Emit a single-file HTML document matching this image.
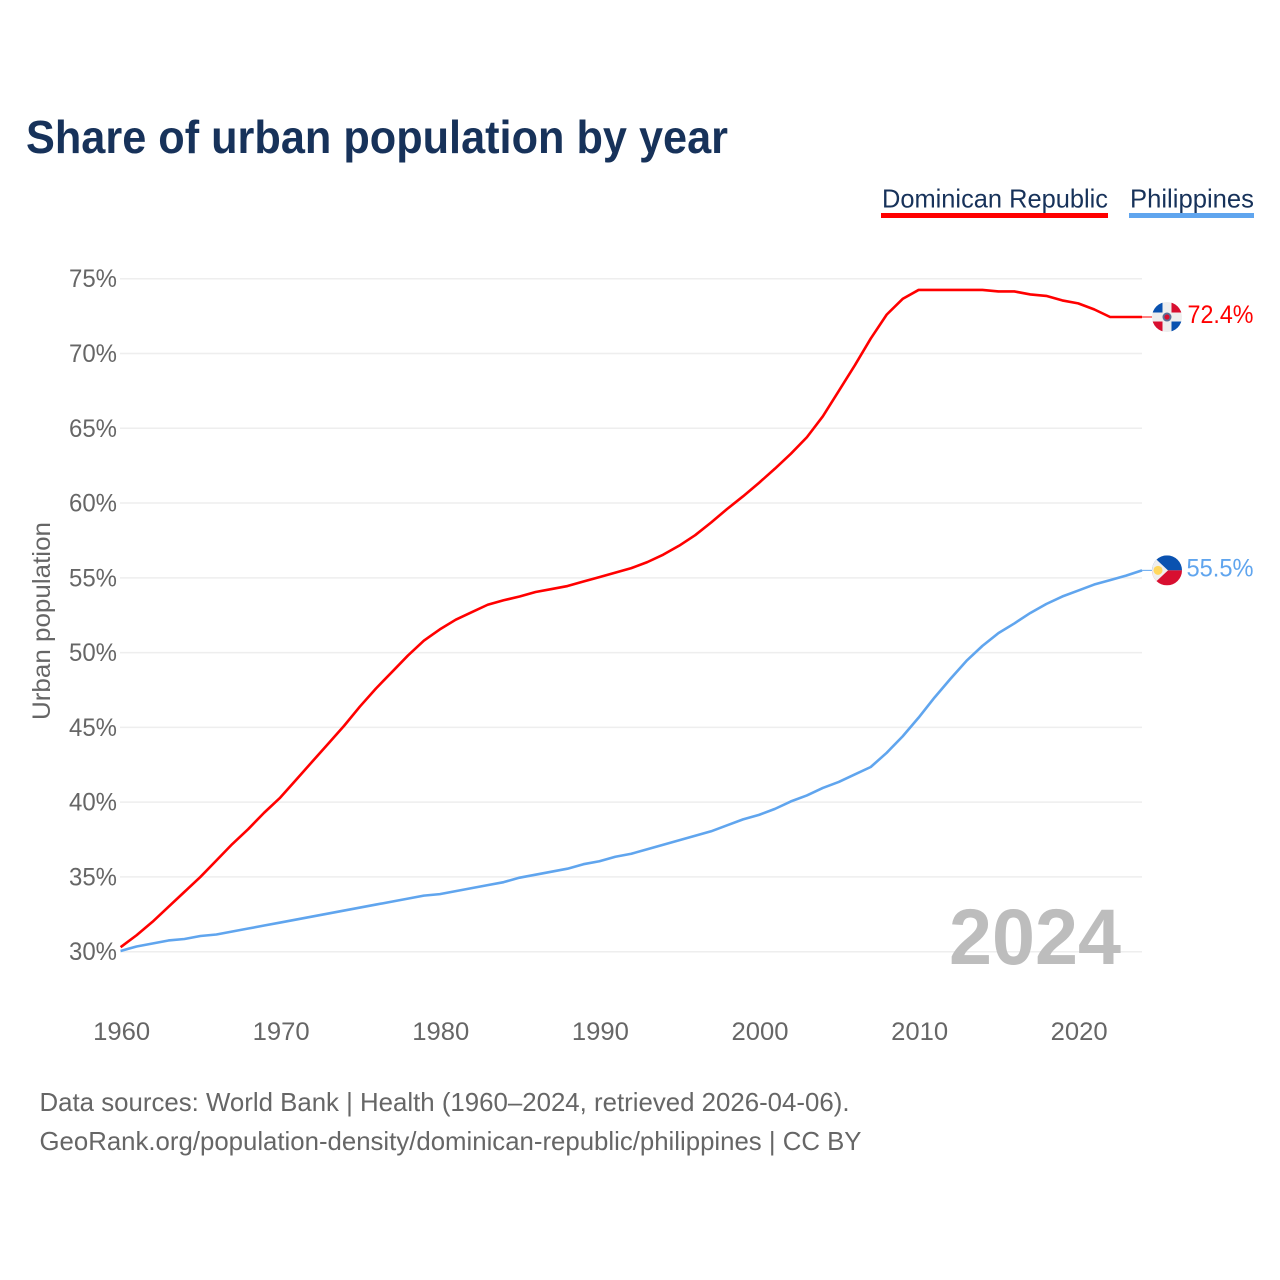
<!DOCTYPE html>
<html lang="en">
<head>
<meta charset="utf-8">
<title>Share of urban population by year</title>
<style>
html,body{margin:0;padding:0;background:#fff}
svg{display:block;font-family:"Liberation Sans",sans-serif}
</style>
</head>
<body>
<svg id="chart" xmlns="http://www.w3.org/2000/svg" width="1280" height="1280" viewBox="0 0 1280 1280">
  <defs>
    <clipPath id="flag-clip-do"><circle id="clip-do" cx="0" cy="0" r="15"/></clipPath>
    <clipPath id="flag-clip-ph"><circle id="clip-ph" cx="0" cy="0" r="15"/></clipPath>
  </defs>
  <rect width="1280" height="1280" fill="#fff"/>
  <text x="26" y="153" font-size="46" font-weight="700" fill="#17325a" textLength="702" lengthAdjust="spacingAndGlyphs">Share of urban population by year</text>

  <text x="882" y="207.5" font-size="26" fill="#17325a" textLength="226" lengthAdjust="spacingAndGlyphs">Dominican Republic</text>
  <rect x="881" y="213" width="227" height="5" fill="#ff0000"/>
  <text x="1130" y="207.5" font-size="26" fill="#17325a" textLength="124" lengthAdjust="spacingAndGlyphs">Philippines</text>
  <rect x="1129" y="213" width="125" height="5" fill="#60a5ee"/>

  <g id="grid"></g>
  <g id="y-ticks"></g>
  <g id="x-ticks"></g>

  <text transform="translate(50 621) rotate(-90)" text-anchor="middle" font-size="25" fill="#666" textLength="198" lengthAdjust="spacingAndGlyphs">Urban population</text>
  <text x="949" y="964" font-size="79" font-weight="700" fill="#bdbdbd" textLength="172" lengthAdjust="spacingAndGlyphs">2024</text>

  <g id="series"></g>

  <g id="flag-do">
    <g clip-path="url(#flag-clip-do)">
      <rect x="-15" y="-15" width="30" height="30" fill="#eeeeee"/>
      <rect x="-15" y="-15" width="10.5" height="10.5" fill="#0a52b0"/>
      <rect x="4.5" y="-15" width="10.5" height="10.5" fill="#d80f30"/>
      <rect x="-15" y="4.5" width="10.5" height="10.5" fill="#d80f30"/>
      <rect x="4.5" y="4.5" width="10.5" height="10.5" fill="#0a52b0"/>
      <circle r="4.5" fill="#5a6f96"/>
      <circle r="2.6" fill="#d80f30"/>
    </g>
  </g>
  <g id="flag-ph">
    <g clip-path="url(#flag-clip-ph)">
      <rect x="-15" y="-15" width="30" height="15" fill="#0a52b0"/>
      <rect x="-15" y="0" width="30" height="15" fill="#d80f30"/>
      <polygon points="-15,-15 -15,15 1,0" fill="#efefef"/>
      <circle cx="-9" cy="0" r="4.5" fill="#ffd75e"/>
    </g>
  </g>
  <text id="end-label-do" text-anchor="end" x="1253.5" font-size="25" fill="#ff0000" textLength="66" lengthAdjust="spacingAndGlyphs"></text>
  <text id="end-label-ph" text-anchor="end" x="1253.5" font-size="25" fill="#60a5ee" textLength="67" lengthAdjust="spacingAndGlyphs"></text>

  <text x="39.5" y="1111" font-size="26" fill="#666" textLength="810" lengthAdjust="spacingAndGlyphs">Data sources: World Bank | Health (1960–2024, retrieved 2026-04-06).</text>
  <text x="39.5" y="1150" font-size="26" fill="#666" textLength="822" lengthAdjust="spacingAndGlyphs">GeoRank.org/population-density/dominican-republic/philippines | CC BY</text>
</svg>
<script>
const startYear = 1960;
const xTickYears = [1960, 1970, 1980, 1990, 2000, 2010, 2020];
const yTickValues = [30, 35, 40, 45, 50, 55, 60, 65, 70, 75];
const dominicanRepublic = [
  30.3, 31.1, 32.0, 33.0, 34.0, 35.0, 36.1, 37.2, 38.2, 39.3,
  40.3, 41.5, 42.7, 43.9, 45.1, 46.4, 47.6, 48.7, 49.8, 50.8,
  51.55, 52.2, 52.7, 53.2, 53.5, 53.75, 54.05, 54.25, 54.45, 54.75,
  55.05, 55.35, 55.65, 56.05, 56.55, 57.15, 57.85, 58.7, 59.6, 60.45,
  61.35, 62.3, 63.3, 64.4, 65.8, 67.5, 69.2, 71.0, 72.6, 73.65,
  74.25, 74.25, 74.25, 74.25, 74.25, 74.15, 74.15, 73.95, 73.85, 73.55,
  73.35, 72.95, 72.44, 72.44, 72.44
];
const philippines = [
  30.05, 30.35, 30.55, 30.75, 30.85, 31.05, 31.15, 31.35, 31.55, 31.75,
  31.95, 32.15, 32.35, 32.55, 32.75, 32.95, 33.15, 33.35, 33.55, 33.75,
  33.85, 34.05, 34.25, 34.45, 34.65, 34.95, 35.15, 35.35, 35.55, 35.85,
  36.05, 36.35, 36.55, 36.85, 37.15, 37.45, 37.75, 38.05, 38.45, 38.85,
  39.15, 39.55, 40.05, 40.45, 40.95, 41.35, 41.85, 42.35, 43.3, 44.4,
  45.65, 47.0, 48.25, 49.45, 50.45, 51.3, 51.95, 52.65, 53.25, 53.75,
  54.15, 54.55, 54.85, 55.15, 55.5
];

const svgNS = 'http://www.w3.org/2000/svg';
const xScale = function (year) { return 120.6 + (year - startYear) * 15.96; };
const yScale = function (value) { return 951.7 - (value - 30) * 14.955; };
const gridLayer = document.getElementById('grid');
const yTickLayer = document.getElementById('y-ticks');
const xTickLayer = document.getElementById('x-ticks');
const seriesLayer = document.getElementById('series');

yTickValues.forEach(function (value) {
  const line = document.createElementNS(svgNS, 'line');
  
  
  line.setAttribute('x1', 120);
  line.setAttribute('x2', 1142);
  line.setAttribute('y1', yScale(value));
  line.setAttribute('y2', yScale(value));
  line.setAttribute('stroke', '#eeeeee');
  line.setAttribute('stroke-width', 1.5);
  gridLayer.appendChild(line);

  const label = document.createElementNS(svgNS, 'text');
  
  
  label.setAttribute('x', 117);
  label.setAttribute('y', yScale(value) + 8.5);
  label.setAttribute('text-anchor', 'end');
  label.setAttribute('font-size', 25);
  label.setAttribute('fill', '#666');
  label.setAttribute('textLength', 48);
  label.setAttribute('lengthAdjust', 'spacingAndGlyphs');
  label.textContent = value + '%';
  yTickLayer.appendChild(label);
});

xTickYears.forEach(function (year) {
  const label = document.createElementNS(svgNS, 'text');
  
  
  label.setAttribute('x', xScale(year) - 27.5);
  label.setAttribute('y', 1040);
  label.setAttribute('font-size', 25);
  label.setAttribute('fill', '#666');
  label.setAttribute('textLength', 57);
  label.setAttribute('lengthAdjust', 'spacingAndGlyphs');
  label.textContent = year;
  xTickLayer.appendChild(label);
});

function drawSeries(values, color, name, flagId, labelId, labelOffset) {
  const points = values.map(function (value, index) {
    return xScale(startYear + index).toFixed(2) + ',' + yScale(value).toFixed(2);
  });
  const line = document.createElementNS(svgNS, 'polyline');
  
  
  line.setAttribute('points', points.join(' '));
  line.setAttribute('fill', 'none');
  line.setAttribute('stroke', color);
  line.setAttribute('stroke-width', 2.6);
  line.setAttribute('stroke-linejoin', 'round');
  seriesLayer.appendChild(line);

  const lastValue = values[values.length - 1];
  const endX = xScale(startYear + values.length - 1);
  const endY = yScale(lastValue);
  const leader = document.createElementNS(svgNS, 'line');
  
  
  leader.setAttribute('x1', endX);
  leader.setAttribute('x2', endX + 10);
  leader.setAttribute('y1', endY);
  leader.setAttribute('y2', endY);
  leader.setAttribute('stroke', color);
  leader.setAttribute('stroke-width', 1);
  seriesLayer.appendChild(leader);

  document.getElementById(flagId).setAttribute('transform', 'translate(1167 ' + endY.toFixed(2) + ')');
  const endLabel = document.getElementById(labelId);
  endLabel.setAttribute('y', (endY + labelOffset).toFixed(2));
  endLabel.textContent = lastValue.toFixed(1) + '%';
}

drawSeries(dominicanRepublic, '#ff0000', 'line-dominican-republic', 'flag-do', 'end-label-do', 6);
drawSeries(philippines, '#60a5ee', 'line-philippines', 'flag-ph', 'end-label-ph', 6);
</script>
</body>
</html>
